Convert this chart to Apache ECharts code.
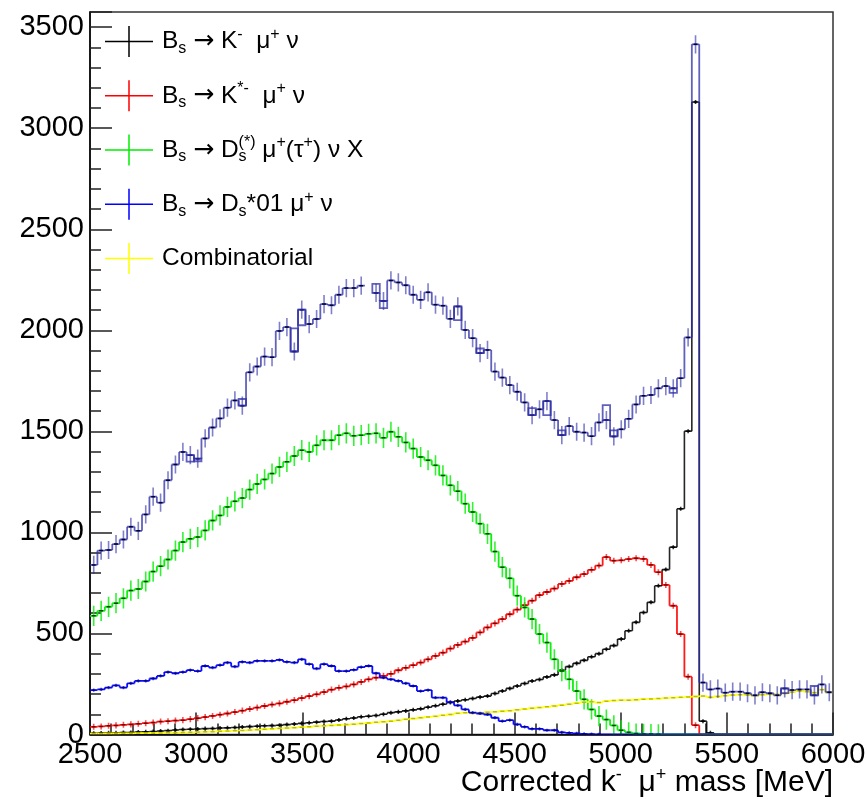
<!DOCTYPE html>
<html>
<head>
<meta charset="utf-8">
<script src="https://cdn.jsdelivr.net/npm/echarts@6/dist/echarts.min.js"></script>
<style>
  html, body { margin: 0; padding: 0; background: #fff; }
  #chart { width: 867px; height: 799px; }
</style>
</head>
<body>
<div id="chart"></div>
<script>
// Histogram binning: 100 bins of 35 MeV from 2500 to 6000 MeV
const binLow = 2500;
const binWidth = 35;

// Tick labels
const xTicks = [2500, 3000, 3500, 4000, 4500, 5000, 5500, 6000];
const yTicks = [0, 500, 1000, 1500, 2000, 2500, 3000, 3500];

// Summed simulation (bin 37 empty)
const total = [839, 910, 913, 942, 965, 1028, 1008, 1089, 1177, 1147,
  1258, 1336, 1398, 1382, 1365, 1465, 1519, 1564, 1617, 1653,
  1627, 1792, 1821, 1870, 1867, 1997, 2016, 1895, 2102, 2031,
  2056, 2130, 2124, 2176, 2209, 2209, 2221, null, 2185, 2145,
  2247, 2237, 2223, 2176, 2151, 2188, 2127, 2122, 2057, 2118,
  2002, 1961, 1887, 1903, 1796, 1766, 1729, 1696, 1643, 1580,
  1609, 1650, 1556, 1481, 1526, 1498, 1494, 1476, 1544, 1556,
  1475, 1510, 1562, 1633, 1676, 1680, 1713, 1724, 1713, 1763,
  1965, 3415, 257, 223, 227, 207, 212, 212, 204, 194,
  209, 204, 194, 228, 220, 223, 223, 194, 248, 209];

// Second summed outline; differs from the first in a few bins
const totalAlt = [839, 910, 913, 942, 965, 1028, 1008, 1089, 1177, 1147,
  1258, 1336, 1398, 1350, 1352, 1465, 1519, 1564, 1617, 1653,
  1660, 1792, 1821, 1870, 1867, 1997, 2016, 2010, 2025, 2031,
  2056, 2130, 2124, 2176, 2209, 2209, 2221, null, 2230, 2110,
  2247, 2237, 2223, 2176, 2151, 2188, 2127, 2122, 2057, 2050,
  2002, 1961, 1910, 1903, 1796, 1766, 1729, 1696, 1643, 1615,
  1609, 1580, 1556, 1505, 1526, 1498, 1494, 1476, 1544, 1630,
  1505, 1510, 1562, 1633, 1676, 1680, 1713, 1724, 1690, 1763,
  1965, 3415, 257, 223, 227, 207, 212, 212, 204, 194,
  209, 204, 194, 205, 220, 223, 223, 240, 248, 209];

// Bs -> K- mu+ nu
const kMuNu = [6, 7, 8, 9, 10, 10, 12, 13, 15, 17,
  19, 22, 25, 26, 27, 29, 30, 32, 33, 35,
  37, 39, 41, 43, 44, 46, 49, 52, 55, 58,
  61, 64, 66, 72, 78, 82, 88, 90, 94, 100,
  108, 112, 117, 122, 127, 135, 142, 150, 158, 166,
  172, 178, 185, 190, 203, 215, 228, 240, 252, 265,
  272, 285, 295, 318, 336, 352, 367, 385, 400, 422,
  440, 472, 513, 555, 604, 654, 736, 816, 927, 1117,
  1501, 3130, 66, 8, 0, 0, 0, 0, 0, 0,
  0, 0, 0, 0, 0, 0, 0, 0, 0, 0];

// Bs -> K*- mu+ nu
const kStarMuNu = [38, 40, 43, 45, 48, 50, 53, 56, 59, 64,
  66, 69, 71, 76, 81, 86, 92, 98, 104, 111,
  118, 126, 133, 141, 148, 154, 162, 170, 180, 190,
  199, 210, 222, 231, 238, 248, 260, 273, 281, 290,
  300, 318, 330, 343, 356, 372, 389, 405, 425, 443,
  460, 478, 505, 530, 550, 571, 595, 618, 640, 662,
  690, 705, 722, 745, 760, 778, 794, 815, 836, 878,
  860, 862, 868, 872, 869, 839, 803, 740, 637, 497,
  286, 46, 0, 0, 0, 0, 0, 0, 0, 0,
  0, 0, 0, 0, 0, 0, 0, 0, 0, 0];

// Bs -> Ds(*) mu+(tau+) nu X
const dsMuNuX = [587, 612, 632, 650, 674, 712, 720, 757, 806, 833,
  866, 910, 952, 968, 977, 1010, 1059, 1084, 1126, 1154,
  1170, 1212, 1240, 1262, 1291, 1324, 1349, 1378, 1407, 1398,
  1431, 1456, 1456, 1481, 1490, 1478, 1481, 1488, 1490, 1468,
  1498, 1473, 1445, 1415, 1373, 1357, 1332, 1282, 1233, 1204,
  1142, 1101, 1043, 993, 905, 828, 773, 687, 629, 571,
  497, 455, 372, 314, 273, 215, 174, 124, 91, 74,
  45, 21, 11, 5, 3, 2, 1, 0, 0, 0,
  0, 0, 0, 0, 0, 0, 0, 0, 0, 0,
  0, 0, 0, 0, 0, 0, 0, 0, 0, 0];

// Bs -> Ds*01 mu+ nu
const ds01MuNu = [220, 223, 232, 243, 232, 253, 265, 265, 277, 290,
  309, 303, 309, 319, 314, 339, 331, 343, 356, 336,
  359, 356, 364, 364, 364, 369, 359, 356, 372, 348,
  326, 348, 339, 314, 314, 320, 333, 339, 303, 281,
  273, 265, 253, 240, 215, 220, 182, 182, 160, 144,
  124, 108, 104, 99, 83, 66, 71, 50, 38, 28,
  28, 21, 21, 11, 8, 5, 3, 2, 1, 0,
  0, 0, 0, 0, 0, 0, 0, 0, 0, 0,
  0, 0, 0, 0, 0, 0, 0, 0, 0, 0,
  0, 0, 0, 0, 0, 0, 0, 0, 0, 0];

// Combinatorial background
const combinatorial = [4, 4, 5, 5, 6, 6, 7, 7, 8, 8,
  9, 9, 10, 11, 12, 13, 14, 16, 17, 19,
  20, 22, 24, 26, 28, 30, 32, 34, 36, 38,
  41, 43, 45, 47, 49, 51, 54, 57, 60, 63,
  66, 70, 75, 79, 83, 87, 90, 95, 99, 105,
  108, 105, 107, 110, 112, 115, 118, 122, 126, 130,
  133, 137, 141, 145, 150, 155, 160, 162, 158, 165,
  168, 170, 170, 172, 175, 176, 178, 180, 182, 184,
  186, 188, 190, 184, 188, 192, 195, 197, 196, 192,
  197, 199, 198, 203, 210, 215, 212, 207, 222, 208];

// Typical half-height of the per-bin error bars of each histogram
const errTotal = 45, errK = 10, errKStar = 15, errDs = 50, errDs01 = 8, errComb = 3;

const FONT = '"Liberation Sans", Arial, Helvetica, sans-serif';
const NAVY = '#2c2ca6';

function histogram(name, values, style) {
  const data = values.map((v, i) => [
    binLow + i * binWidth,
    binLow + (i + 1) * binWidth,
    v == null ? NaN : v,
    (i > 0 && values[i - 1] != null) ? values[i - 1] : NaN
  ]);
  return {
    type: 'custom',
    name: name,
    data: data,
    clip: true,
    z: style.z,
    silent: true,
    itemStyle: { color: style.color },
    encode: { x: [0, 1], y: 2 },
    renderItem: function (params, api) {
      const x0 = api.value(0), x1 = api.value(1);
      const v = api.value(2), pv = api.value(3);
      if (isNaN(v)) return null;
      const children = [];
      const a = api.coord([x0, v]);
      const b = api.coord([x1, v]);
      const lineStyle = { stroke: style.color, lineWidth: style.lw, opacity: style.op };
      children.push({ type: 'line', shape: { x1: a[0], y1: a[1], x2: b[0], y2: b[1] }, style: lineStyle });
      if (!isNaN(pv)) {
        const c = api.coord([x0, pv]);
        children.push({ type: 'line', shape: { x1: a[0], y1: c[1], x2: a[0], y2: a[1] }, style: lineStyle });
      }
      if (v > 0) {
        const xc = (x0 + x1) / 2;
        const top = api.coord([xc, v + style.err]);
        const bot = api.coord([xc, Math.max(0, v - style.err)]);
        children.push({ type: 'line', shape: { x1: top[0], y1: top[1], x2: top[0], y2: bot[1] },
          style: { stroke: style.errColor || style.color, lineWidth: 1.6, opacity: style.errOp } });
        const m = api.coord([xc, v]);
        children.push({ type: 'line', shape: { x1: m[0] - 2, y1: m[1], x2: m[0] + 2, y2: m[1] },
          style: { stroke: style.mark, lineWidth: 1.5, opacity: style.markOp } });
      }
      return { type: 'group', children: children };
    }
  };
}

// Outline boxes in the bins where the two summed histograms disagree
function spreadBoxes(a, b, color) {
  const data = [];
  a.forEach((v, i) => {
    if (v != null && b[i] != null && v !== b[i]) {
      data.push([binLow + i * binWidth, binLow + (i + 1) * binWidth, v, b[i]]);
    }
  });
  return {
    type: 'custom', name: 'spread', data: data, clip: true, z: 4, silent: true,
    encode: { x: [0, 1], y: [2, 3] },
    renderItem: function (params, api) {
      const p = api.coord([api.value(0), api.value(2)]);
      const q = api.coord([api.value(1), api.value(3)]);
      return {
        type: 'rect',
        shape: { x: p[0], y: Math.min(p[1], q[1]), width: q[0] - p[0], height: Math.abs(q[1] - p[1]) },
        style: { fill: 'none', stroke: color, lineWidth: 1.8, opacity: 0.75 }
      };
    }
  };
}

const names = {
  k: 'Bs → K- μ+ ν',
  kstar: 'Bs → K*- μ+ ν',
  ds: 'Bs → Ds(*) μ+(τ+) ν X',
  ds01: 'Bs → Ds*01 μ+ ν',
  comb: 'Combinatorial'
};

const legendRich = {};
legendRich[names.k] = 'B{sub|s} {ar|→} K{sup|-}  μ{sup|+} ν';
legendRich[names.kstar] = 'B{sub|s} {ar|→} K{sup|*-}  μ{sup|+} ν';
legendRich[names.ds] = 'B{sub|s} {ar|→} D{subz|s}{sup|(*)} μ{sup|+}(τ{sup|+}) ν X';
legendRich[names.ds01] = 'B{sub|s} {ar|→} D{sub|s}*01 μ{sup|+} ν';
legendRich[names.comb] = 'Combinatorial';

const crossIcon = 'path://M0,14.75h48v1.5h-48z M23.25,0h1.5v31h-1.5z';

const chart = echarts.init(document.getElementById('chart'), null, { renderer: 'canvas' });

chart.setOption({
  animation: false,
  backgroundColor: '#fff',
  textStyle: { fontFamily: FONT },
  grid: {
    left: 90, right: 34, top: 12, bottom: 64.5,
    outerBoundsMode: 'none', containLabel: false,
    show: true, borderColor: '#333', borderWidth: 1.5, backgroundColor: 'transparent'
  },
  legend: {
    orient: 'vertical',
    left: 105, top: 26,
    padding: 0,
    itemWidth: 48, itemHeight: 31, itemGap: 23.25,
    selectedMode: false,
    data: [names.k, names.kstar, names.ds, names.ds01, names.comb].map(n => ({ name: n, icon: crossIcon })),
    formatter: function (n) { return legendRich[n]; },
    textStyle: {
      fontFamily: FONT, fontSize: 24.5, color: '#000', lineHeight: 30, padding: [0, 0, 0, 4],
      rich: {
        sub: { fontFamily: FONT, fontSize: 16, lineHeight: 16, verticalAlign: 'bottom', color: '#000' },
        subz: { fontFamily: FONT, fontSize: 16, lineHeight: 16, verticalAlign: 'bottom', width: 0, color: '#000' },
        sup: { fontFamily: FONT, fontSize: 16, lineHeight: 16, verticalAlign: 'top', color: '#000' },
        ar: { fontFamily: '"DejaVu Sans", sans-serif', fontSize: 25, lineHeight: 30, color: '#000' }
      }
    }
  },
  graphic: [{
    type: 'text',
    right: 34, top: 766,
    silent: true,
    style: {
      text: 'Corrected k{sup|-}  μ{sup|+} mass [MeV]',
      fontFamily: FONT, fontSize: 30, lineHeight: 34, fill: '#000',
      rich: { sup: { fontFamily: FONT, fontSize: 18, lineHeight: 18, verticalAlign: 'top', fill: '#000' } }
    }
  }],
  xAxis: {
    type: 'value',
    min: 2500, max: 6000, interval: 500,
    axisLine: { show: true, onZero: false, lineStyle: { color: '#000', width: 1.5 } },
    axisTick: { show: true, inside: true, length: 22, lineStyle: { color: '#222', width: 1.5 } },
    minorTick: { show: true, splitNumber: 5, length: 11, lineStyle: { color: '#222', width: 1.5 } },
    axisLabel: {
      fontFamily: FONT, fontSize: 29, color: '#000', margin: 6, hideOverlap: false,
      showMinLabel: true, showMaxLabel: true,
      formatter: function (v) { return xTicks.indexOf(v) >= 0 ? String(v) : ''; }
    },
    splitLine: { show: false }
  },
  yAxis: [{
    type: 'value',
    min: 0, max: 3575, interval: 500,
    axisLine: { show: true, onZero: false, lineStyle: { color: '#000', width: 1.5 } },
    axisTick: { show: true, inside: true, length: 22, lineStyle: { color: '#222', width: 1.5 } },
    axisLabel: {
      fontFamily: FONT, fontSize: 29, color: '#000', margin: 6, hideOverlap: false,
      formatter: function (v) { return yTicks.indexOf(v) >= 0 ? String(v) : ''; }
    },
    splitLine: { show: false }
  }, {
    // finer 100-unit ticks along the left edge
    type: 'value', position: 'left', offset: 0,
    min: 0, max: 3575, interval: 100,
    axisLine: { show: false },
    axisTick: { show: true, inside: true, length: 11, lineStyle: { color: '#222', width: 1.5 } },
    axisLabel: { show: false },
    splitLine: { show: false }
  }],
  series: [
    histogram(names.k, kMuNu, { color: '#000000', lw: 1.6, op: 0.85, err: errK, errOp: 0.8, mark: '#000', markOp: 1, z: 3 }),
    histogram(names.kstar, kStarMuNu, { color: '#ff0000', lw: 1.8, op: 0.9, err: errKStar, errOp: 0.7, mark: '#400000', markOp: 0.7, z: 3 }),
    histogram(names.ds, dsMuNuX, { color: '#00ee00', lw: 1.8, op: 0.95, err: errDs, errOp: 0.8, mark: '#003300', markOp: 0.9, z: 3 }),
    histogram(names.comb, combinatorial, { color: '#ffff00', lw: 1.8, op: 1, err: errComb, errOp: 0.8, mark: '#404000', markOp: 0.35, z: 3 }),
    histogram(names.ds01, ds01MuNu, { color: '#0000ff', lw: 1.8, op: 0.95, err: errDs01, errOp: 0.7, mark: '#000040', markOp: 0.6, z: 3 }),
    histogram('Total', total, { color: NAVY, lw: 1.8, op: 0.75, err: errTotal, errColor: NAVY, errOp: 0.6, mark: '#00003a', markOp: 1, z: 4 }),
    spreadBoxes(total, totalAlt, NAVY)
  ]
});
</script>
</body>
</html>
